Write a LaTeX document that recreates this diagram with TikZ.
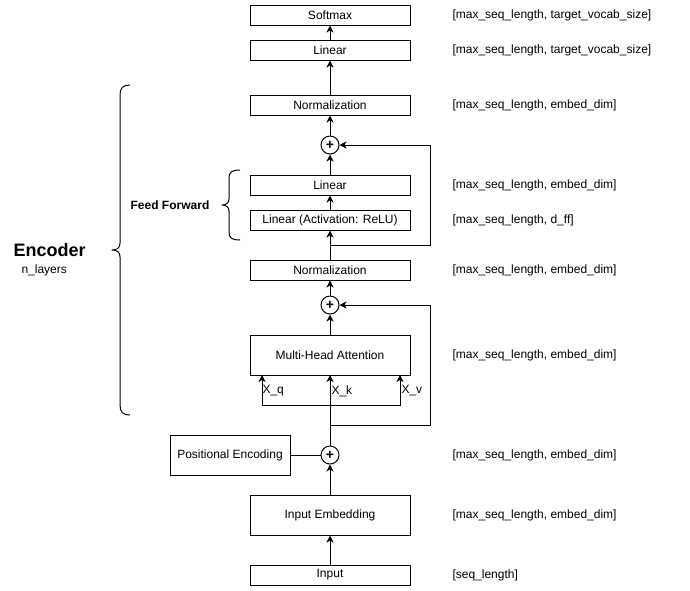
\documentclass[tikz,border=0pt]{standalone}
\usepackage{fontspec}
\setmainfont{Liberation Sans}
\usetikzlibrary{arrows.meta}
\begin{document}
\begin{tikzpicture}[x=1pt,y=-1pt,line width=1pt,
  every node/.style={font=\fontsize{12}{14}\selectfont},
  layer/.style={draw,rectangle,minimum width=160pt,minimum height=20pt,inner sep=0pt},
  tallbox/.style={layer,minimum height=40pt},
  posbox/.style={draw,rectangle,minimum width=120pt,minimum height=40pt,inner sep=0pt},
  addop/.style={draw,circle,minimum size=18pt,inner sep=0pt,font=\fontsize{14}{14}\selectfont\bfseries},
  shape label/.style={anchor=west,inner sep=0pt},
  flow/.style={-{Stealth[length=7pt,width=7pt,inset=2pt]}},
  brace/.style={line width=1pt,line join=round}]
\useasboundingbox (0,0) rectangle (690,590);

% main stack
\node[layer] (softmax) at (330,15) {Softmax};
\node[layer] (lin3) at (330,50) {Linear};
\node[layer] (norm2) at (330,105) {Normalization};
\node[addop] (add3) at (330,145) {+};
\node[layer] (lin2) at (330,185) {Linear};
\node[layer] (lin1) at (330,220) {Linear (Activation: ReLU)};
\node[layer] (norm1) at (330,270) {Normalization};
\node[addop] (add2) at (330,305) {+};
\node[tallbox] (mha) at (330,355) {Multi-Head Attention};
\node[addop] (add1) at (330,455) {+};
\node[posbox] (pos) at (230,455) {Positional Encoding};
\node[tallbox] (emb) at (330,515) {Input Embedding};
\node[layer] (inp) at (330,575) {Input};

% tensor shapes
\node[shape label] (s1) at (452,15) {[max\_seq\_length, target\_vocab\_size]};
\node[shape label] (s2) at (452,50) {[max\_seq\_length, target\_vocab\_size]};
\node[shape label] (s3) at (452,105) {[max\_seq\_length, embed\_dim]};
\node[shape label] (s4) at (452,185) {[max\_seq\_length, embed\_dim]};
\node[shape label] (s5) at (452,220) {[max\_seq\_length, d\_ff]};
\node[shape label] (s6) at (452,270) {[max\_seq\_length, embed\_dim]};
\node[shape label] (s7) at (452,355) {[max\_seq\_length, embed\_dim]};
\node[shape label] (s8) at (452,455) {[max\_seq\_length, embed\_dim]};
\node[shape label] (s9) at (452,515) {[max\_seq\_length, embed\_dim]};
\node[shape label] (s10) at (452,575) {[seq\_length]};

% forward path
\draw[flow] (inp) -- (emb);
\draw[flow] (emb) -- (add1);
\draw (pos) -- (add1);
\draw[flow] (add2) -- (norm1);
\draw[flow] (mha) -- (add2);
\draw[flow] (norm1) -- (lin1);
\draw[flow] (lin1) -- (lin2);
\draw[flow] (lin2) -- (add3);
\draw[flow] (add3) -- (norm2);
\draw[flow] (norm2) -- (lin3);
\draw[flow] (lin3) -- (softmax);

% attention inputs
\coordinate (qin) at (262,375);
\coordinate (vin) at (400,375);
\coordinate (split) at (330,405);
\draw[flow] (add1) -- (330,375);
\draw[flow] (split) -- (262,405) -- (qin);
\draw[flow] (split) -- (400,405) -- (vin);
\node[anchor=west,inner sep=0pt] (xq) at (262,391) {X\_q};
\node[anchor=west,inner sep=0pt] (xk) at (331,391) {X\_k};
\node[anchor=west,inner sep=0pt] (xv) at (401,391) {X\_v};

% residual connections
\coordinate (res1) at (330,425);
\coordinate (res2) at (330,245);
\draw[flow] (res1) -- (430,425) -- (430,305) -- (add2);
\draw[flow] (res2) -- (430,245) -- (430,145) -- (add3);

% feed forward brace
\draw[brace] (240,170) .. controls (232,170) and (229,172) .. (229,178) -- (229,199)
  .. controls (229,203) and (226,205) .. (222,205)
  .. controls (226,205) and (229,207) .. (229,211) -- (229,232)
  .. controls (229,238) and (232,240) .. (240,240);
\node[font=\fontsize{12}{14}\selectfont\bfseries] (ff) at (170,205) {Feed Forward};

% encoder brace
\draw[brace] (130,85) .. controls (123,85) and (120,88) .. (120,95) -- (120,243)
  .. controls (120,248) and (117,250) .. (112,250)
  .. controls (117,250) and (120,252) .. (120,257) -- (120,405)
  .. controls (120,412) and (123,415) .. (130,415);
\node[font=\fontsize{18}{20}\selectfont\bfseries,anchor=west,inner sep=0pt] (enc) at (13,250) {Encoder};
\node[anchor=west,inner sep=0pt] (nl) at (21,270) {n\_layers};
\end{tikzpicture}
\end{document}
